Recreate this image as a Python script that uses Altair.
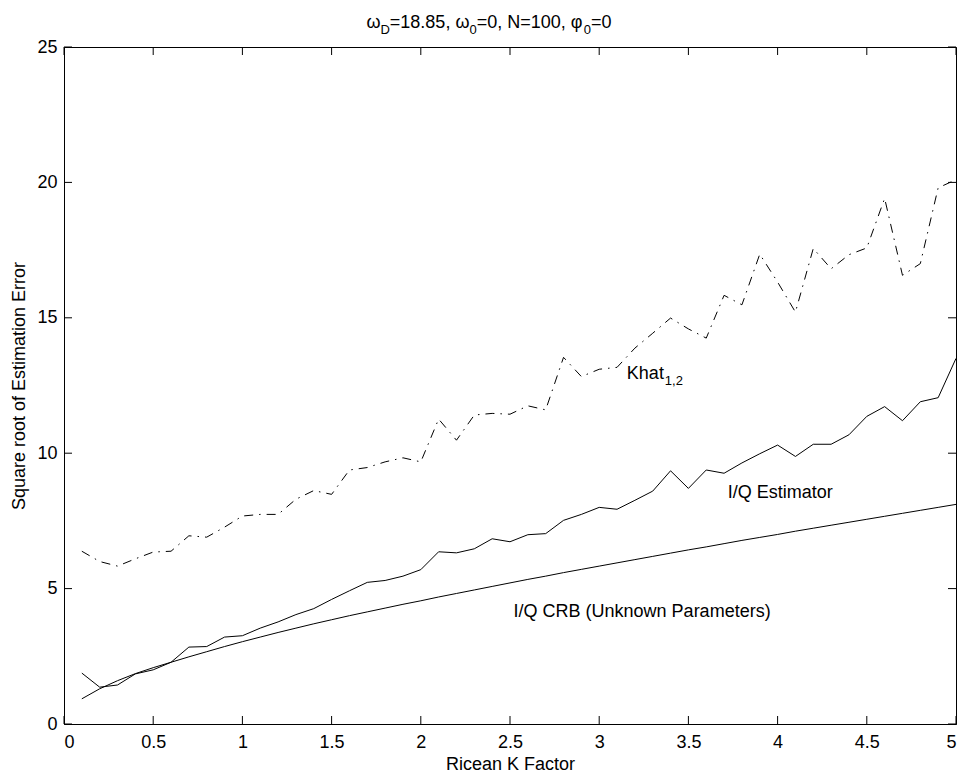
import altair as alt
import pandas as pd

# ---------------- data ----------------
k_factor = [0.1, 0.2, 0.3, 0.4, 0.5, 0.6, 0.7, 0.8, 0.9, 1.0,
            1.1, 1.2, 1.3, 1.4, 1.5, 1.6, 1.7, 1.8, 1.9, 2.0,
            2.1, 2.2, 2.3, 2.4, 2.5, 2.6, 2.7, 2.8, 2.9, 3.0,
            3.1, 3.2, 3.3, 3.4, 3.5, 3.6, 3.7, 3.8, 3.9, 4.0,
            4.1, 4.2, 4.3, 4.4, 4.5, 4.6, 4.7, 4.8, 4.9, 5.0]

khat = [6.38, 6.00, 5.83, 6.10, 6.35, 6.38, 6.95, 6.90, 7.27, 7.68,
        7.74, 7.74, 8.30, 8.62, 8.48, 9.38, 9.47, 9.68, 9.83, 9.68,
        11.26, 10.48, 11.41, 11.47, 11.44, 11.75, 11.60, 13.54, 12.83, 13.10,
        13.17, 13.88, 14.43, 14.99, 14.59, 14.25, 15.83, 15.48, 17.35, 16.32,
        15.21, 17.56, 16.81, 17.33, 17.58, 19.41, 16.57, 17.00, 19.80, 20.10]

iq_est = [1.88, 1.36, 1.44, 1.85, 2.00, 2.28, 2.84, 2.86, 3.21, 3.26,
          3.54, 3.77, 4.04, 4.26, 4.60, 4.92, 5.23, 5.30, 5.46, 5.70,
          6.36, 6.32, 6.47, 6.84, 6.73, 6.99, 7.03, 7.52, 7.74, 8.00,
          7.93, 8.26, 8.60, 9.35, 8.70, 9.38, 9.26, 9.64, 9.98, 10.30,
          9.88, 10.33, 10.33, 10.68, 11.36, 11.72, 11.20, 11.90, 12.05, 13.50]

iq_crb = [0.93, 1.30, 1.60, 1.86, 2.08, 2.28, 2.48, 2.67, 2.86, 3.04,
          3.21, 3.38, 3.54, 3.70, 3.85, 4.00, 4.14, 4.28, 4.42, 4.55,
          4.69, 4.82, 4.95, 5.08, 5.21, 5.34, 5.46, 5.59, 5.71, 5.83,
          5.95, 6.07, 6.19, 6.31, 6.43, 6.54, 6.66, 6.78, 6.89, 7.00,
          7.12, 7.23, 7.34, 7.45, 7.56, 7.67, 7.78, 7.89, 8.00, 8.11]

x_ticks = [0, 0.5, 1, 1.5, 2, 2.5, 3, 3.5, 4, 4.5, 5]
y_ticks = [0, 5, 10, 15, 20, 25]

labels = ["Khat", "I/Q Estimator", "I/Q CRB (Unknown Parameters)"]
label_x = [3.155, 3.72, 2.52]
label_y = [12.74, 8.33, 3.96]

# ---------------- layout ----------------
W, H = 892, 677
FONT = "Liberation Sans"
FS = 18
SUB = 13
TL = 8  # inward tick length

df = pd.DataFrame({"k": k_factor, "khat": khat, "est": iq_est, "crb": iq_crb})
xs = alt.Scale(domain=[0, 5], nice=False, zero=False)
ys = alt.Scale(domain=[0, 25], nice=False, zero=False)

xaxis = alt.Axis(values=x_ticks, format="~g", ticks=False, tickSize=0, grid=False,
                 labelPadding=9, title="Ricean K Factor", titlePadding=4,
                 domainColor="black", labelColor="black", titleColor="black")
yaxis = alt.Axis(values=y_ticks, format="~g", ticks=False, tickSize=0, grid=False,
                 labelPadding=7, title="Square root of Estimation Error", titlePadding=8,
                 domainColor="black", labelColor="black", titleColor="black")

base = alt.Chart(df)

crb_line = base.mark_line(color="black", strokeWidth=1).encode(
    x=alt.X("k:Q", scale=xs, axis=xaxis),
    y=alt.Y("crb:Q", scale=ys, axis=yaxis),
)
est_line = base.mark_line(color="black", strokeWidth=1).encode(
    x=alt.X("k:Q", scale=xs), y=alt.Y("est:Q", scale=ys)
)
khat_line = base.mark_line(color="black", strokeWidth=1, strokeDash=[9, 6, 1.5, 6]).encode(
    x=alt.X("k:Q", scale=xs), y=alt.Y("khat:Q", scale=ys)
)

xt = pd.DataFrame({"t": x_ticks})
yt = pd.DataFrame({"t": y_ticks})
tick_bottom = alt.Chart(xt).mark_rule(color="black", strokeWidth=1).encode(
    x=alt.X("t:Q", scale=xs), y=alt.value(H), y2=alt.value(H - TL))
tick_top = alt.Chart(xt).mark_rule(color="black", strokeWidth=1).encode(
    x=alt.X("t:Q", scale=xs), y=alt.value(0), y2=alt.value(TL))
tick_left = alt.Chart(yt).mark_rule(color="black", strokeWidth=1).encode(
    y=alt.Y("t:Q", scale=ys), x=alt.value(0), x2=alt.value(TL))
tick_right = alt.Chart(yt).mark_rule(color="black", strokeWidth=1).encode(
    y=alt.Y("t:Q", scale=ys), x=alt.value(W), x2=alt.value(W - TL))

ann = pd.DataFrame({"label": labels, "lx": label_x, "ly": label_y})
ann_text = alt.Chart(ann).mark_text(
    align="left", baseline="alphabetic", font=FONT, fontSize=FS, color="black"
).encode(x=alt.X("lx:Q", scale=xs), y=alt.Y("ly:Q", scale=ys), text="label:N")
ann_sub = alt.Chart(ann.iloc[[0]]).mark_text(
    align="left", baseline="alphabetic", font=FONT, fontSize=SUB, color="black",
    dx=38, dy=6
).encode(x=alt.X("lx:Q", scale=xs), y=alt.Y("ly:Q", scale=ys), text=alt.value("1,2"))

# ---- title with subscripts, built from pieces ----
pieces = [("ω", FS, 0), ("D", SUB, 6), ("=18.85, ω", FS, 0), ("0", SUB, 6),
          ("=0, N=100, φ", FS, 0), ("0", SUB, 6), ("=0", FS, 0)]
em = {"=": .584, "1": .556, "8": .556, ".": .278, "5": .556, ",": .278, " ": .278,
      "0": .556, "N": .722, "D": .722, "ω": .78, "φ": .73}
widths = [sum(em.get(c, .556) for c in s) * size for s, size, _ in pieces]
total = sum(widths)
title_center = W / 2 - 21
cur = title_center - total / 2
title_layers = []
one = pd.DataFrame({"a": [0]})
for (s, size, off), w in zip(pieces, widths):
    title_layers.append(
        alt.Chart(one).mark_text(align="left", baseline="alphabetic", font=FONT,
                                 fontSize=size, color="black", text=s)
        .encode(x=alt.value(cur), y=alt.value(-19 + off))
    )
    cur += w

chart = alt.layer(
    crb_line, est_line, khat_line,
    tick_bottom, tick_top, tick_left, tick_right,
    ann_text, ann_sub, *title_layers
).properties(
    width=W, height=H,
    autosize=alt.AutoSizeParams(type="none"),
    padding={"left": 64, "top": 47, "right": 9, "bottom": 55},
    background="white",
).configure_view(
    stroke="black", strokeWidth=1
).configure_axis(
    labelFont=FONT, titleFont=FONT, labelFontSize=FS, titleFontSize=FS,
    titleFontWeight="normal", domainWidth=1
)

chart.save("out.html", embed_options={"renderer": "svg", "actions": False})
